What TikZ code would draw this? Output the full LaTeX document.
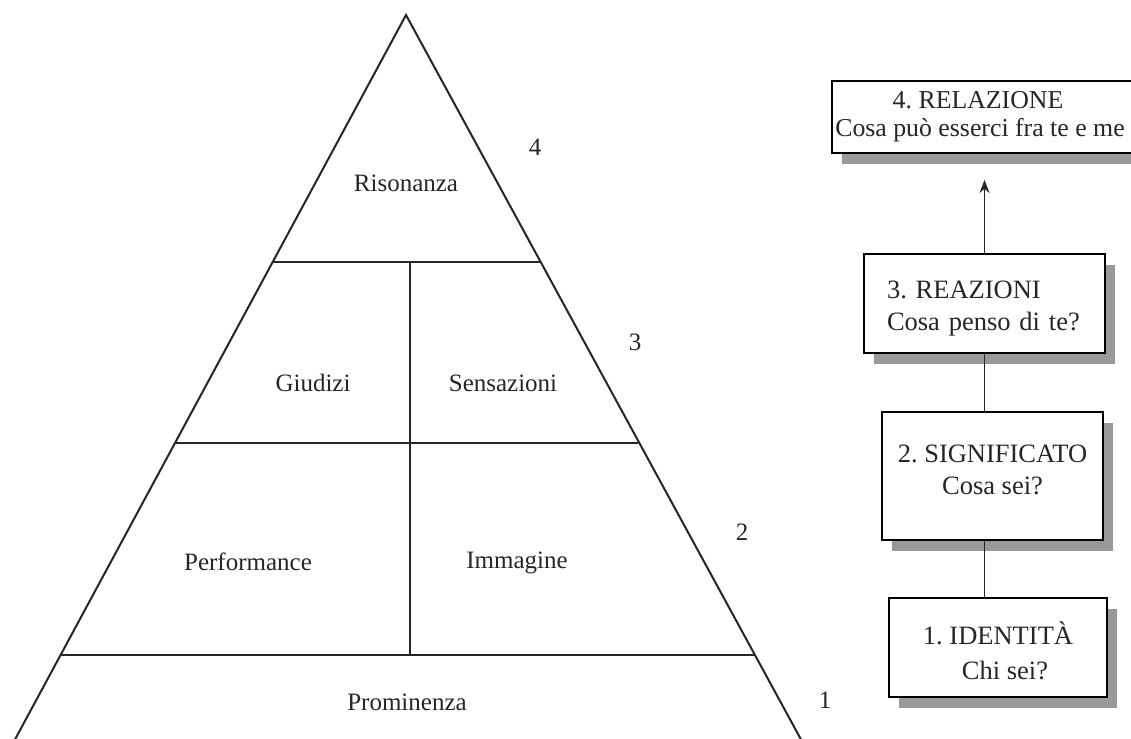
\documentclass[tikz,border=0pt]{standalone}
\usepackage{fontspec}
\setmainfont{Liberation Serif}
\frenchspacing
\usetikzlibrary{arrows.meta,shadows}
\begin{document}
\begin{tikzpicture}[x=1pt,y=-1pt,
  pyr/.style={line width=2pt,draw=black!85},
  lbl/.style={font=\fontsize{25}{29}\selectfont,text=black!85,inner sep=0pt},
  num/.style={font=\fontsize{25}{29}\selectfont,text=black!85,inner sep=0pt},
  levelbox/.style={draw=black,line width=2pt,fill=white,
     drop shadow={shadow xshift=10pt,shadow yshift=-11pt,fill=black!40,opacity=1},
     font=\fontsize{26.5}{32}\selectfont\frenchspacing,text=black!85,inner sep=0pt},
  conn/.style={line width=1.6pt,draw=black!85}]
\useasboundingbox[fill=white] (0,0) rectangle (1131,738);
% pyramid
\coordinate (apex) at (406,15);
\coordinate (bl) at (12,745);
\coordinate (br) at (804,745);
\draw[pyr] (bl) -- (apex) -- (br);
\draw[pyr] (273,262) -- (540,262);
\draw[pyr] (175,443) -- (638,443);
\draw[pyr] (60,655) -- (755,655);
\draw[pyr] (410,262) -- (410,655);
% labels
\node[lbl] (ris) at (406,183) {Risonanza};
\node[lbl] (giu) at (313,383) {Giudizi};
\node[lbl] (sen) at (503,383) {Sensazioni};
\node[lbl] (per) at (248,562) {Performance};
\node[lbl] (imm) at (517,563) {Immagine};
\node[lbl] (pro) at (407,702) {Prominenza};
\node[num] (n4) at (535,147) {4};
\node[num] (n3) at (635,342) {3};
\node[num] (n2) at (742,532) {2};
\node[num] (n1) at (825,700) {1};
% boxes
\node[levelbox,minimum width=300pt,minimum height=72pt,align=center,
  font=\fontsize{25.8}{28}\selectfont\frenchspacing] (b4) at (982,117)
  {\hspace*{-8pt}4. RELAZIONE\\\hspace*{-4pt}Cosa può esserci fra te e me};
\node[levelbox,minimum width=241pt,minimum height=99pt,text width=195pt,align=left] (b3) at (984.5,303.5)
  {\rule{0pt}{27pt}3. REAZIONI\\Cosa penso di te?};
\node[levelbox,minimum width=221pt,minimum height=128pt,align=center] (b2) at (992.5,476)
  {2. SIGNIFICATO\\Cosa sei?\\[-20pt]};
\node[levelbox,minimum width=218pt,minimum height=99pt,align=center,
  font=\fontsize{26.5}{35}\selectfont\frenchspacing] (b1) at (998,647.5)
  {\rule{0pt}{29pt}1. IDENTITÀ\\\hspace*{14pt}Chi sei?};
% connectors
\draw[conn,-{Stealth[length=13pt,width=10pt]}] (b3.north) -- ([yshift=-26pt]b3.north |- b4.south);
\draw[conn] (b3.south) -- (b3.south |- b2.north);
\draw[conn] (b3.center |- b2.south) -- (b3.center |- b1.north);
\end{tikzpicture}
\end{document}
